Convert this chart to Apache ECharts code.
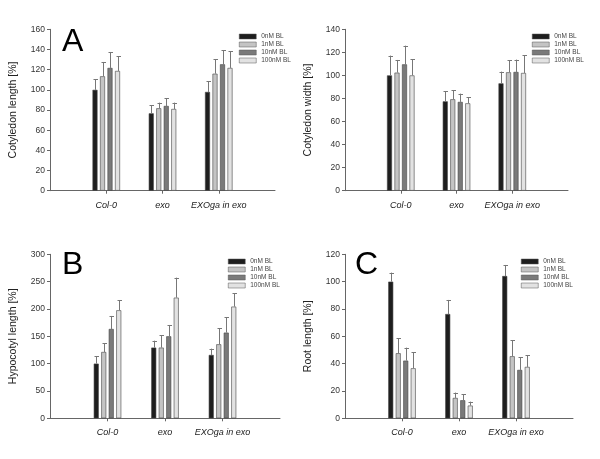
<!DOCTYPE html>
<html>
<head>
<meta charset="utf-8">
<script src="https://cdn.jsdelivr.net/npm/echarts@6/dist/echarts.min.js"></script>
<style>html,body{margin:0;padding:0;background:#fff;}#c{width:600px;height:459px;}</style>
</head>
<body>
<div id="c"></div>
<script>
// ---- data ----
const categories = ['', 'Col-0', 'exo', 'EXOga in exo', ''];
const seriesNames = ['0nM BL', '1nM BL', '10nM BL', '100nM BL'];

// Panel A: Cotyledon length (means per series: Col-0, exo, EXOga in exo)
const cotLenMean = [[100, 76.7, 97.9], [113.4, 81.7, 116], [121.7, 84, 125.3], [118.7, 81, 121.7]];
const cotLenErr  = [[10.4, 7.9, 10.5], [14.2, 5.6, 14.2], [15.8, 7.6, 13.9], [14.5, 6.3, 16.5]];
// Panel top right: Cotyledon width
const cotWidMean = [[100, 77.5, 93.1], [102.4, 79.3, 102.7], [109.6, 77, 103], [100, 75.8, 102.1]];
const cotWidErr  = [[17.2, 8.7, 10.2], [11, 7.7, 10.4], [16.2, 7.2, 10.7], [14, 5.2, 15.3]];
// Panel B: Hypocotyl length
const hypMean = [[100, 129.3, 115.9], [121.3, 129.3, 135.4], [163.4, 150, 156.7], [197.6, 220.7, 204.3]];
const hypErr  = [[13.4, 12.7, 11.5], [15.9, 22.5, 29.2], [23.8, 20.7, 28.1], [18.3, 36.6, 24.4]];
// Panel C: Root length
const rootMean = [[100, 76.3, 104.1], [47.6, 14.9, 45.4], [42.2, 13.2, 35.4], [36.6, 9.3, 37.6]];
const rootErr  = [[6.6, 10.3, 8.1], [10.9, 3.9, 11.7], [9.5, 4.4, 9.2], [11.7, 2.9, 8.5]];

const panels = [
  {name: 'Cotyledon length [%]', max: 160, interval: 20, mean: cotLenMean, err: cotLenErr, letter: 'A',
   grid: {left: 50, right: 325, top: 29.3, bottom: 268.3}, legend: {left: 239, top: 33}, letterPos: [62, 26]},
  {name: 'Cotyledon width [%]', max: 140, interval: 20, mean: cotWidMean, err: cotWidErr, letter: '',
   grid: {left: 345, right: 32, top: 29.3, bottom: 268.3}, legend: {left: 532, top: 33}, letterPos: [0, 0]},
  {name: 'Hypocotyl length [%]', max: 300, interval: 50, mean: hypMean, err: hypErr, letter: 'B',
   grid: {left: 50, right: 320, top: 254.3, bottom: 40.7}, legend: {left: 228, top: 258}, letterPos: [62, 249]},
  {name: 'Root length [%]', max: 120, interval: 20, mean: rootMean, err: rootErr, letter: 'C',
   grid: {left: 345, right: 27, top: 254.3, bottom: 40.7}, legend: {left: 521, top: 258}, letterPos: [355, 249]}
];

const colors = ['#1e1e1e', '#c4c4c4', '#7a7a7a', '#e2e2e2'];
const barW = 5, pitch = 7.5;
const axisCol = '#666';
const font = 'Liberation Sans, Arial, sans-serif';

const grid = [], xAxis = [], yAxis = [], series = [], legend = [], graphic = [];
panels.forEach((p, gi) => {
  grid.push(Object.assign({containLabel: false}, p.grid));
  xAxis.push({
    type: 'category', gridIndex: gi, data: categories, boundaryGap: false,
    axisLine: {lineStyle: {color: axisCol, width: 1}},
    axisTick: {inside: false, length: 3, interval: (i) => i >= 1 && i <= 3, lineStyle: {color: axisCol}},
    axisLabel: {interval: 0, fontSize: 9, fontStyle: 'italic', color: '#222', margin: 10, fontFamily: font},
    splitLine: {show: false}
  });
  yAxis.push({
    type: 'value', gridIndex: gi, min: 0, max: p.max, interval: p.interval,
    name: p.name, nameLocation: 'middle', nameGap: 31,
    nameTextStyle: {fontSize: 10.5, color: '#222', fontFamily: font},
    axisLine: {show: true, lineStyle: {color: axisCol, width: 1}},
    axisTick: {show: true, length: 3, lineStyle: {color: axisCol}},
    axisLabel: {fontSize: 8.5, color: '#333', margin: 5, fontFamily: font},
    splitLine: {show: false}
  });
  seriesNames.forEach((sn, k) => {
    series.push({
      type: 'bar', name: sn, xAxisIndex: gi, yAxisIndex: gi,
      data: [null].concat(p.mean[k]).concat([null]),
      barWidth: barW, barGap: '50%',
      itemStyle: {color: colors[k], borderColor: '#444', borderWidth: 0.6},
      emphasis: {disabled: true}, animation: false
    });
  });
  seriesNames.forEach((sn, k) => {
    const d = p.mean[k].map((m, j) => [j + 1, m, p.err[k][j]]);
    series.push({
      type: 'custom', xAxisIndex: gi, yAxisIndex: gi, animation: false, z: 5,
      data: d, encode: {x: 0, y: 1},
      renderItem: (params, api) => {
        const x = api.value(0), m = api.value(1), e = api.value(2);
        const b = api.coord([x, m]);
        const t = api.coord([x, m + e]);
        const cx = Math.round(b[0] + (k - 1.5) * pitch) + 0.5;
        return {
          type: 'group',
          children: [
            {type: 'line', shape: {x1: cx, y1: b[1], x2: cx, y2: t[1]}, style: {stroke: '#777', lineWidth: 1}},
            {type: 'line', shape: {x1: cx - 2, y1: Math.round(t[1]) + 0.5, x2: cx + 2.5, y2: Math.round(t[1]) + 0.5}, style: {stroke: '#777', lineWidth: 1}}
          ]
        };
      }
    });
  });
  legend.push({
    orient: 'vertical', left: p.legend.left, top: p.legend.top,
    data: seriesNames.map(n => ({name: n, icon: 'rect'})),
    itemWidth: 17, itemHeight: 5, itemGap: 1, padding: 0,
    itemStyle: {borderWidth: 0.5, borderColor: '#555'},
    textStyle: {fontSize: 6.5, lineHeight: 7, color: '#444', fontFamily: font},
    selectedMode: false
  });
  if (p.letter) {
    graphic.push({type: 'text', left: p.letterPos[0], top: p.letterPos[1],
      style: {text: p.letter, font: '32px ' + font, fill: '#000'}});
  }
});

const chart = echarts.init(document.getElementById('c'), null, {renderer: 'canvas'});
chart.setOption({animation: false, backgroundColor: '#fff', grid, xAxis, yAxis, series, legend, graphic});
</script>
</body>
</html>
